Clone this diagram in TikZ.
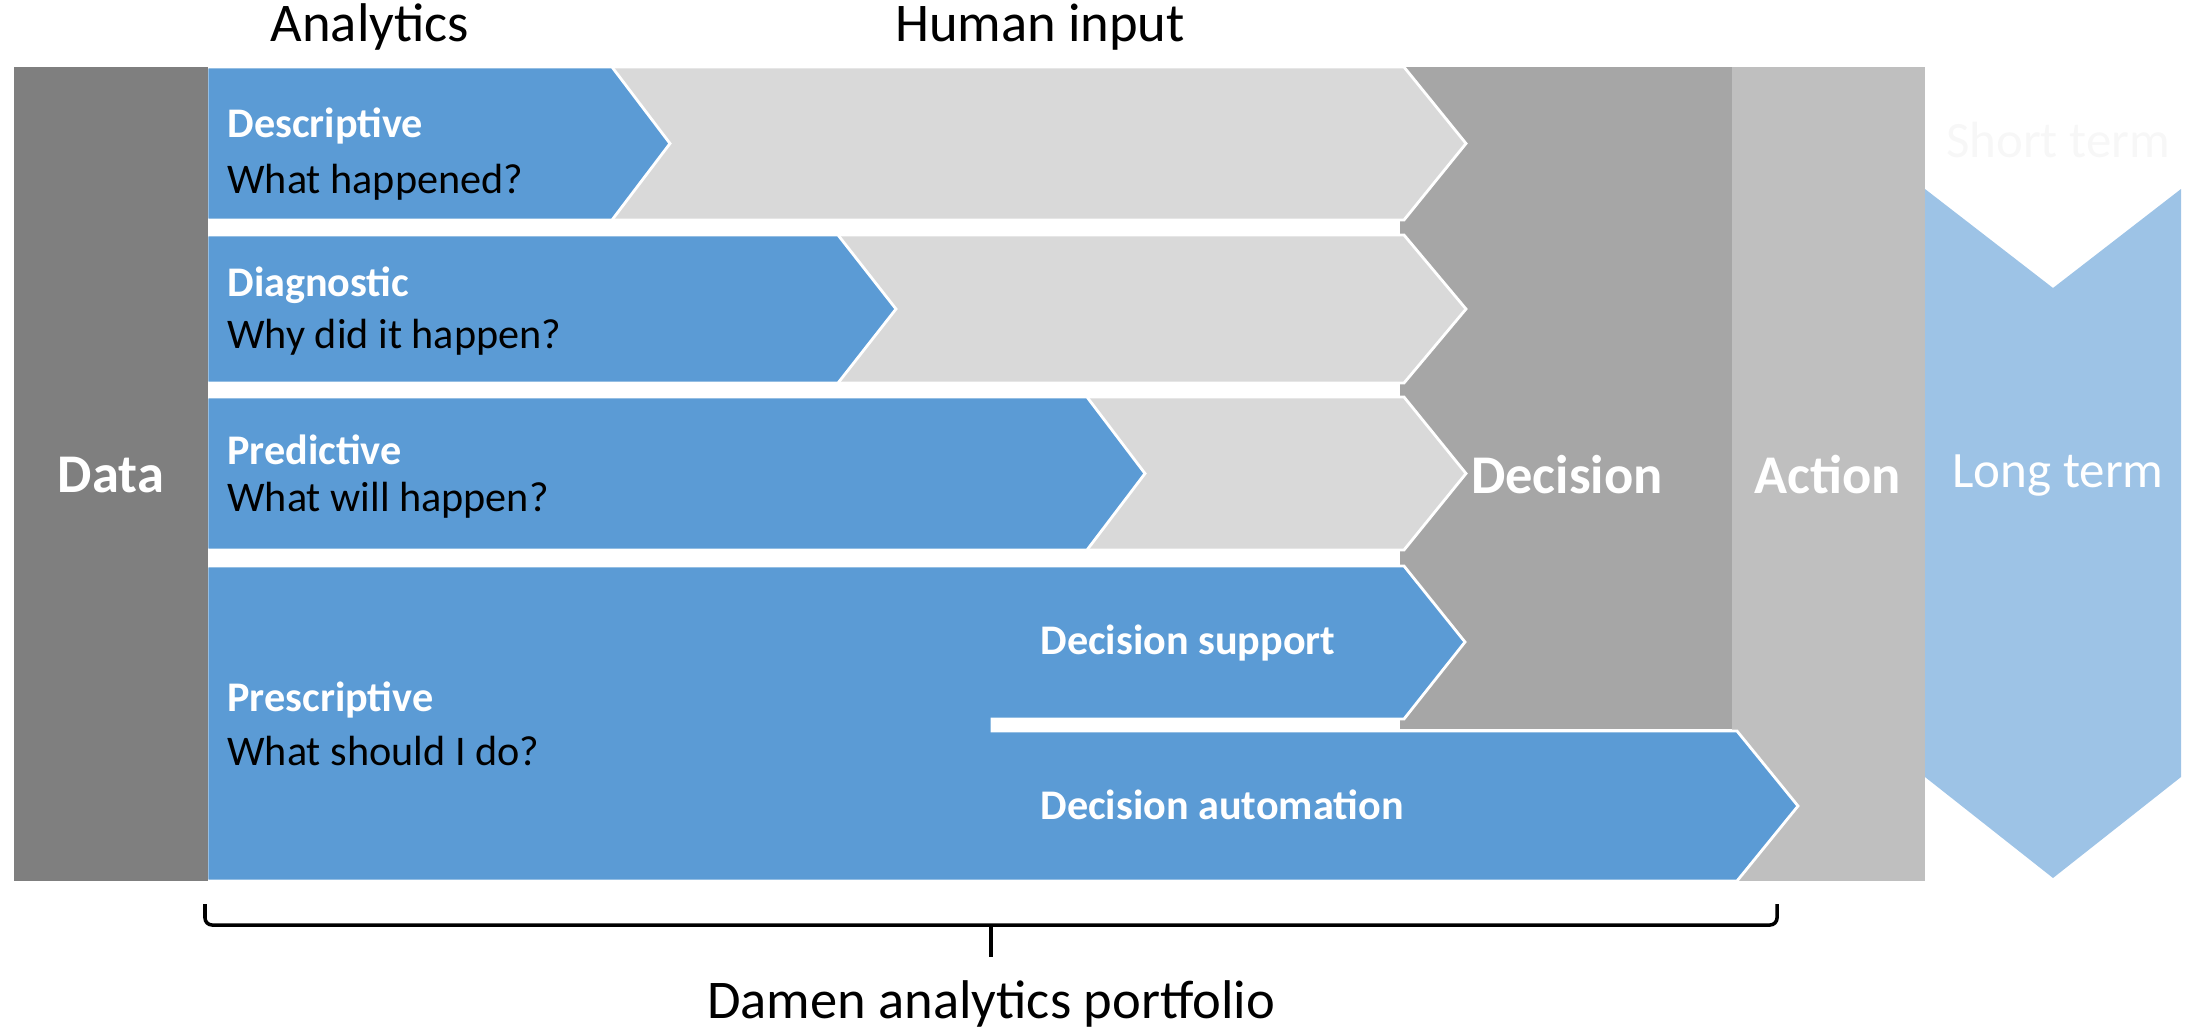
\documentclass[tikz,border=0pt]{standalone}
\usepackage{fontspec}
\setmainfont{Carlito}
\definecolor{bluefill}{HTML}{5B9BD5}
\definecolor{greyfill}{HTML}{D9D9D9}
\definecolor{datafill}{HTML}{7F7F7F}
\definecolor{decisionfill}{HTML}{A6A6A6}
\definecolor{actionfill}{HTML}{BFBFBF}
\definecolor{termfill}{HTML}{9DC3E6}
\tikzset{
  arrowshape/.style={draw=white, line width=0.8pt},
  rowtitle/.style={anchor=west, text=white, font=\bfseries\fontsize{12}{14}\selectfont},
  rowquestion/.style={anchor=west, font=\fontsize{12}{14}\selectfont},
  bigword/.style={text=white, font=\bfseries\fontsize{15.5}{19}\selectfont},
  header/.style={font=\fontsize{15.5}{18}\selectfont},
  termword/.style={font=\fontsize{14.5}{17}\selectfont},
}
\begin{document}
\begin{tikzpicture}[x=0.01cm, y=-0.01cm]
  \useasboundingbox (0,0) rectangle (2190,1030);
  % decision, action, term
  \fill[actionfill] (1732,67) rectangle (1925,881);
  \fill[decisionfill] (1400,67) rectangle (1732,729);
  \fill[termfill] (1925,189) -- (2053,288) -- (2181,189) -- (2181,777) -- (2053,878) -- (1925,777) -- cycle;
  % human input rows
  \foreach \ya/\yb in {67/220, 235/383, 397/550}
    \filldraw[fill=greyfill, arrowshape] (207,\ya) -- (1404,\ya) -- (1466,{(\ya+\yb)/2}) -- (1404,\yb) -- (207,\yb) -- cycle;
  % analytics rows
  \foreach \ya/\yb/\xe in {67/220/612, 235/383/838, 397/550/1087}
    \filldraw[fill=bluefill, arrowshape] (207,\ya) -- (\xe,\ya) -- ({\xe+58},{(\ya+\yb)/2}) -- (\xe,\yb) -- (207,\yb) -- cycle;
  % prescriptive
  \filldraw[fill=bluefill, arrowshape] (207,566) -- (1404,566) -- (1465,642) -- (1404,719) -- (992,719) -- (992,731)
    -- (1737,731) -- (1798,806) -- (1737,881) -- (207,881) -- cycle;
  % data
  \fill[datafill] (14,67) rectangle (208,881);

  \node[header] (analytics) at (370,27) {Analytics};
  \node[header] (human) at (1040,27) {Human input};
  \node[bigword] (data) at (111,475) {Data};
  \node[bigword] (decision) at (1567,475) {Decision};
  \node[bigword] (action) at (1828,475) {Action};
  \node[termword, text=white] (longterm) at (2058,476) {Long term};
  \node[termword, text=white!97!black] (shortterm) at (2058,140) {Short term};

  \node[rowtitle] (descriptive) at (215,126) {Descriptive};
  \node[rowquestion] (descq) at (215,182) {What happened?};
  \node[rowtitle] (diagnostic) at (215,285) {Diagnostic};
  \node[rowquestion] (diagq) at (215,337) {Why did it happen?};
  \node[rowtitle] (predictive) at (215,450) {Predictive};
  \node[rowquestion] (predq) at (215,500) {What will happen?};
  \node[rowtitle] (prescriptive) at (215,700) {Prescriptive};
  \node[rowquestion] (presq) at (215,751) {What should I do?};
  \node[rowtitle] (support) at (1028,643) {Decision support};
  \node[rowtitle] (automation) at (1028,805) {Decision automation};

  % portfolio brace
  \coordinate (braceleft) at (205,904);
  \coordinate (braceright) at (1777,904);
  \coordinate (bracemid) at (991,925);
  \coordinate (bracetip) at (991,957);
  \draw[line width=1pt, rounded corners=2pt] (braceleft) |- (bracemid) -| (braceright);
  \draw[line width=1pt] (bracemid) -- (bracetip);
  \node[header] (portfolio) at (991,1004) {Damen analytics portfolio};
\end{tikzpicture}
\end{document}
